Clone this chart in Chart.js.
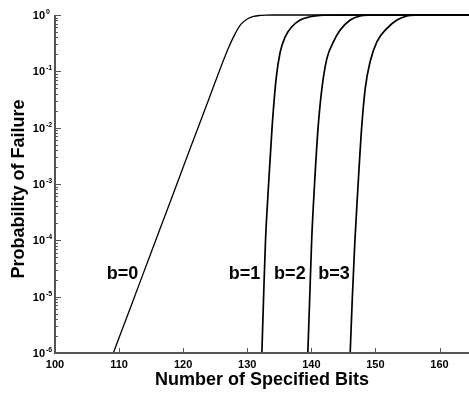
<!DOCTYPE html>
<html>
<head>
<meta charset="utf-8">
<script src="https://cdn.jsdelivr.net/npm/chart.js@4/dist/chart.umd.min.js"></script>
<style>
  html, body { margin: 0; padding: 0; background: #fff; }
  #wrap { width: 469px; height: 393px; }
</style>
</head>
<body>
<div id="wrap"><canvas id="failChart" width="469" height="393"></canvas></div>
<script>
// values: specified bits -> probability of failure
const b0Bits = [109.1, 112, 115, 118, 121, 124, 126, 127, 128, 129, 130, 131, 132, 133, 134, 165];
const b0Prob = [1e-6, 7.5e-6, 6.1e-5, 4.9e-4, 4.0e-3, 0.032, 0.13, 0.25, 0.44, 0.68, 0.85, 0.944, 0.982, 0.995, 0.999, 1];

const b1Bits = [132.28, 132.55, 132.85, 133.33, 133.87, 134.51, 135.14, 135.92, 136.96, 138.26, 139.82, 141, 142, 143.5, 165];
const b1Prob = [1e-6, 1e-5, 1e-4, 1e-3, 1e-2, 0.075, 0.22, 0.41, 0.62, 0.815, 0.93, 0.975, 0.99, 0.998, 1];

const b2Bits = [139.45, 139.75, 140.05, 140.5, 141.05, 141.65, 142.43, 143.46, 144.5, 146.07, 147.6, 149.2, 151, 165];
const b2Prob = [1e-6, 1e-5, 1e-4, 1e-3, 1e-2, 0.05, 0.17, 0.336, 0.54, 0.815, 0.96, 0.993, 0.999, 1];

const b3Bits = [146.06, 146.4, 146.8, 147.3, 147.85, 148.41, 149.17, 150.24, 151.8, 153.36, 154.92, 156.5, 158, 165];
const b3Prob = [1e-6, 1e-5, 1e-4, 1e-3, 1e-2, 0.05, 0.148, 0.336, 0.58, 0.815, 0.96, 0.993, 0.999, 1];

const xTicks = [100, 110, 120, 130, 140, 150, 160];
const yExponents = [-6, -5, -4, -3, -2, -1, 0];

// curve labels: text, x (bits), y (probability)
const curveLabels = [
  ['b=0', 110.55, 2.5e-5],
  ['b=1', 129.57, 2.5e-5],
  ['b=2', 136.65, 2.5e-5],
  ['b=3', 143.54, 2.5e-5]
];

const FONT = '"Liberation Sans", Arial, Helvetica, sans-serif';

function toPoints(xs, ys) {
  return xs.map((v, i) => ({ x: v, y: ys[i] }));
}

function curve(xs, ys, w) {
  return {
    data: toPoints(xs, ys),
    borderColor: '#000',
    borderWidth: w,
    pointRadius: 0,
    cubicInterpolationMode: 'monotone',
    fill: false,
    clip: false
  };
}

// axes, ticks and all the text are drawn by hand (inward ticks, 10^n labels)
const axesPlugin = {
  id: 'axesPlugin',
  afterDraw(chart) {
    const { ctx, chartArea: a, scales: { x, y } } = chart;
    ctx.save();

    ctx.strokeStyle = '#555';
    ctx.lineWidth = 1;
    // y ticks, major + minor, pointing inward
    yExponents.forEach(e => {
      for (let m = 1; m <= 9; m++) {
        if (e === 0 && m > 1) break;
        const py = Math.round(y.getPixelForValue(m * Math.pow(10, e))) + 0.5;
        const len = m === 1 ? 6 : 3;
        ctx.beginPath();
        ctx.moveTo(a.left, py);
        ctx.lineTo(a.left + len, py);
        ctx.stroke();
      }
    });
    // x ticks
    xTicks.forEach(t => {
      const px = Math.round(x.getPixelForValue(t)) + 0.5;
      ctx.beginPath();
      ctx.moveTo(px, a.bottom);
      ctx.lineTo(px, a.bottom - 5);
      ctx.stroke();
    });

    // axis lines
    ctx.lineWidth = 2;
    ctx.beginPath();
    ctx.moveTo(a.left, a.top);
    ctx.lineTo(a.left, a.bottom);
    ctx.lineTo(a.right, a.bottom);
    ctx.stroke();

    ctx.fillStyle = '#000';
    // x tick labels
    ctx.font = 'bold 11px ' + FONT;
    ctx.textAlign = 'center';
    ctx.textBaseline = 'alphabetic';
    xTicks.forEach(t => {
      ctx.fillText(String(t), x.getPixelForValue(t), a.bottom + 15);
    });

    // y tick labels as 10 with a raised exponent
    yExponents.forEach(e => {
      const py = y.getPixelForValue(Math.pow(10, e));
      ctx.font = 'bold 11px ' + FONT;
      ctx.textAlign = 'right';
      ctx.fillText('10', a.left - 10, py + 4);
      ctx.font = 'bold 7px ' + FONT;
      ctx.textAlign = 'left';
      ctx.fillText(String(e), a.left - 9, py - 1);
    });

    // axis titles
    ctx.font = 'bold 18px ' + FONT;
    ctx.textAlign = 'center';
    ctx.fillText('Number of Specified Bits', (a.left + a.right) / 2, 385);
    ctx.save();
    ctx.translate(23.5, 189);
    ctx.rotate(-Math.PI / 2);
    ctx.fillText('Probability of Failure', 0, 0);
    ctx.restore();

    // curve labels
    ctx.textBaseline = 'middle';
    curveLabels.forEach(([txt, bx, by]) => {
      ctx.fillText(txt, x.getPixelForValue(bx), y.getPixelForValue(by));
    });

    ctx.restore();
  }
};

new Chart(document.getElementById('failChart'), {
  type: 'line',
  data: {
    datasets: [
      curve(b0Bits, b0Prob, 1.3),
      curve(b1Bits, b1Prob, 1.7),
      curve(b2Bits, b2Prob, 1.7),
      curve(b3Bits, b3Prob, 1.7)
    ]
  },
  options: {
    responsive: false,
    animation: false,
    layout: { padding: { left: 55, top: 15, right: 0, bottom: 40 } },
    plugins: { legend: { display: false }, tooltip: { enabled: false } },
    scales: {
      x: { type: 'linear', min: 100, max: 164.6, display: false },
      y: { type: 'logarithmic', min: 1e-6, max: 1, display: false }
    }
  },
  plugins: [axesPlugin]
});
</script>
</body>
</html>
